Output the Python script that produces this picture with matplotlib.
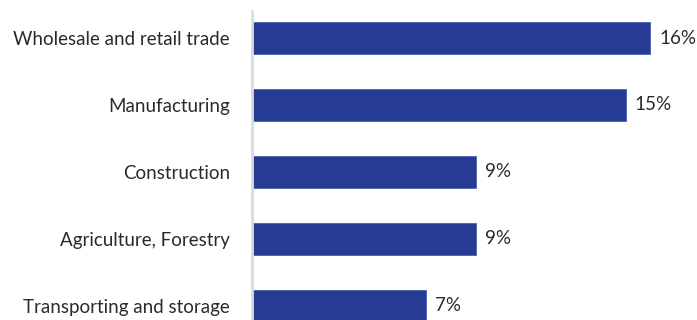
import matplotlib
matplotlib.use("Agg")
import matplotlib.pyplot as plt

categories = ["Wholesale and retail trade", "Manufacturing", "Construction",
              "Agriculture, Forestry", "Transporting and storage"]
values = [16, 15, 9, 9, 7]
value_labels = ["16%", "15%", "9%", "9%", "7%"]

W, H = 697, 320
fig = plt.figure(figsize=(W / 100, H / 100), dpi=100)
ax = fig.add_axes([252 / W, 0, 445 / W, 309 / H])

bar_color = "#263c94"
ypos = list(range(len(categories)))
ax.barh(ypos, values, height=0.478, color=bar_color, edgecolor="#4a5fb0", linewidth=0.6, zorder=2)

ax.set_xlim(0, 445 / 24.9)
ax.set_ylim(4.209, -0.403)

font = "Lato"
fs = 13.5
tc = "#2b2b2b"
for y, v, lab in zip(ypos, values, value_labels):
    ax.text(v + 9 / 24.9, y, lab, va="center", ha="left", fontsize=fs,
            family=font, color=tc)

ax.set_yticks(ypos)
ax.set_yticklabels(categories, fontsize=fs, family=font, color=tc)
ax.tick_params(axis="y", length=0, pad=15.8)
ax.set_xticks([])
for s in ["top", "right", "bottom"]:
    ax.spines[s].set_visible(False)
ax.spines["left"].set_color("#dcdcdc")
ax.spines["left"].set_linewidth(2)

fig.savefig("out.png", dpi=100)
